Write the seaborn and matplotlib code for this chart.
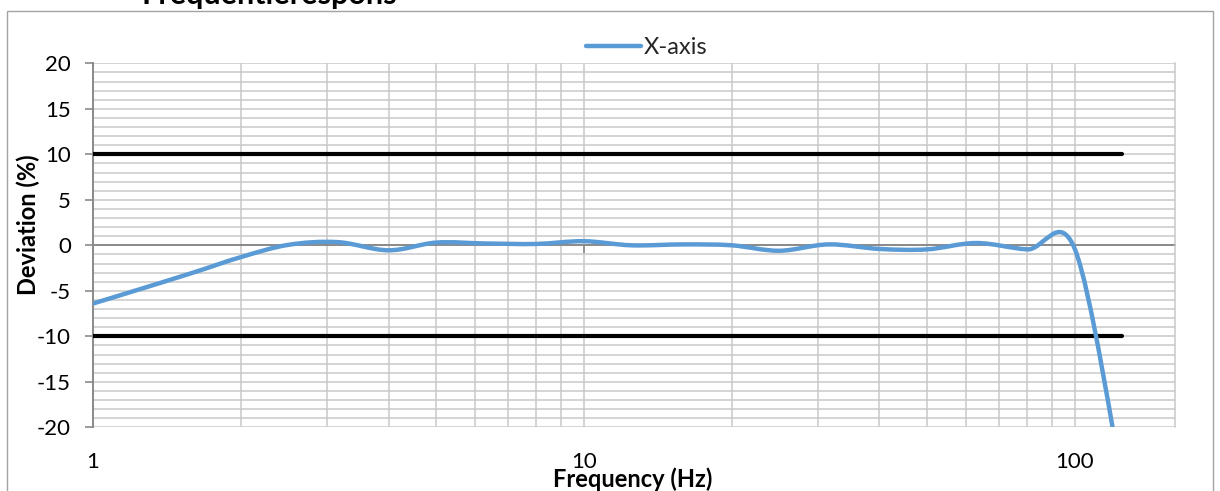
import numpy as np
import matplotlib
matplotlib.use("Agg")
import matplotlib.pyplot as plt
import seaborn as sns
from matplotlib.path import Path
from matplotlib.patches import PathPatch, Rectangle
from matplotlib.lines import Line2D
from matplotlib.ticker import LogLocator, MultipleLocator, FixedLocator, NullFormatter, NullLocator

# Third-octave measurement frequencies (Hz) and measured deviation (%)
freqs = [1, 1.25, 1.6, 2, 2.5, 3.15, 4, 5, 6.3, 8, 10, 12.5, 16, 20, 25,
         31.5, 40, 50, 63, 80, 100, 125]
deviation = [-6.4, -4.8, -3.0, -1.3, 0.05, 0.35, -0.55, 0.3, 0.2, 0.15, 0.45,
             0.0, 0.1, 0.0, -0.6, 0.1, -0.4, -0.45, 0.25, -0.45, -0.4, -26]

# Tolerance band
limit_freqs = [1, 125]
upper_limit = [10, 10]
lower_limit = [-10, -10]

series_name = "X-axis"
title = "Frequentierespons"
xlabel = "Frequency (Hz)"
ylabel = "Deviation (%)"
xtick_values = [1, 10, 100]
xtick_labels = ["1", "10", "100"]
ytick_values = [-20, -15, -10, -5, 0, 5, 10, 15, 20]

sns.set_theme(style="white")
plt.rcParams["font.family"] = ["Lato", "DejaVu Sans"]
plt.rcParams["axes.unicode_minus"] = False

W, H = 1220, 491
fig = plt.figure(figsize=(W / 100, H / 100), dpi=100)
L, R, T, B = 93, 1175, 63.3, 427.3
ax = fig.add_axes([L / W, 1 - B / H, (R - L) / W, (B - T) / H])
ax.set_facecolor("white")

ax.set_xscale("log")
ax.set_xlim(1, 160)
ax.set_ylim(-20, 20)

grid_c = "#C9C9C9"
axis_c = "#8A8A8A"

# gridlines
ax.xaxis.set_major_locator(FixedLocator(xtick_values))
ax.xaxis.set_minor_locator(LogLocator(base=10, subs=np.arange(2, 10)))
ax.xaxis.set_minor_formatter(NullFormatter())
ax.yaxis.set_major_locator(FixedLocator(ytick_values))
ax.yaxis.set_minor_locator(MultipleLocator(1))
ax.grid(True, which="both", axis="both", color=grid_c, lw=1.1, zorder=0)
ax.set_axisbelow(True)

# limit lines
sns.lineplot(x=limit_freqs, y=upper_limit, color="black", lw=3.0, ax=ax,
             legend=False, zorder=3)
sns.lineplot(x=limit_freqs, y=lower_limit, color="black", lw=3.0, ax=ax,
             legend=False, zorder=3)

# smoothed measurement curve (cubic Bezier through the points in log-x space)
u = np.log10(np.asarray(freqs, float))
pts = np.column_stack([u, np.asarray(deviation, float)])
n = len(pts)
verts = [pts[0]]
codes = [Path.MOVETO]
for i in range(n - 1):
    p0 = pts[max(i - 1, 0)]
    p1 = pts[i]
    p2 = pts[i + 1]
    p3 = pts[min(i + 2, n - 1)]
    c1 = p1 + (p2 - p0) / 6
    c2 = p2 - (p3 - p1) / 6
    verts += [c1, c2, p2]
    codes += [Path.CURVE4] * 3
verts = np.array(verts)
verts[:, 0] = 10 ** verts[:, 0]
curve = PathPatch(Path(verts, codes), facecolor="none", edgecolor="#5B9BD5",
                  lw=3.2, capstyle="butt", joinstyle="round", zorder=4)
ax.add_patch(curve)

# spines: value axis on the left, category axis crossing at zero
ax.spines["top"].set_visible(False)
ax.spines["right"].set_color(grid_c)
ax.spines["right"].set_linewidth(1.1)
ax.spines["left"].set_color(axis_c)
ax.spines["left"].set_linewidth(1.4)
ax.spines["bottom"].set_position(("data", 0))
ax.spines["bottom"].set_color(axis_c)
ax.spines["bottom"].set_linewidth(1.4)
ax.spines["bottom"].set_zorder(2)

ax.tick_params(axis="y", which="major", direction="out", length=6, width=1.2,
               color=axis_c, pad=10, labelsize=16, labelcolor="black", left=True)
ax.tick_params(axis="y", which="minor", length=0)
ax.tick_params(axis="x", which="major", direction="out", length=6, width=1.2,
               color=axis_c, labelbottom=False, bottom=True)
ax.tick_params(axis="x", which="minor", length=0)

sec = ax.secondary_xaxis("bottom")
sec.set_xticks(xtick_values)
sec.set_xticklabels(xtick_labels)
sec.xaxis.set_minor_locator(NullLocator())
sec.tick_params(axis="x", length=0, pad=18, labelsize=16, labelcolor="black")
sec.spines["bottom"].set_visible(False)

ax.set_ylabel(ylabel, fontsize=17, fontweight="bold", color="black")
ax.yaxis.set_label_coords((28 - L) / (R - L), (B - 225) / (B - T))
ax.yaxis.label.set_va("center")

fig.text(633 / W, 1 - 479 / H, xlabel, fontsize=17, fontweight="bold",
         ha="center", va="center", color="black")

# legend
handle = Line2D([], [], color="#5B9BD5", lw=3.2)
fig.legend([handle], [series_name], loc="center",
           bbox_to_anchor=(647 / W, 1 - 48 / H), frameon=False, fontsize=17,
           handlelength=2.3, handletextpad=0.15, borderpad=0)

# chart title (partly above the visible area)
fig.text(142 / W, 1 - 4 / H, title, fontsize=22, fontweight="bold",
         ha="left", va="baseline", color="black")

# chart border
fig.patches.append(Rectangle((6.5 / W, -0.2), (1213 - 6.5) / W, 1.2 - 11 / H,
                             transform=fig.transFigure, fill=False,
                             edgecolor="#A3A3A3", lw=1.0))

fig.savefig("out.png", dpi=100)
